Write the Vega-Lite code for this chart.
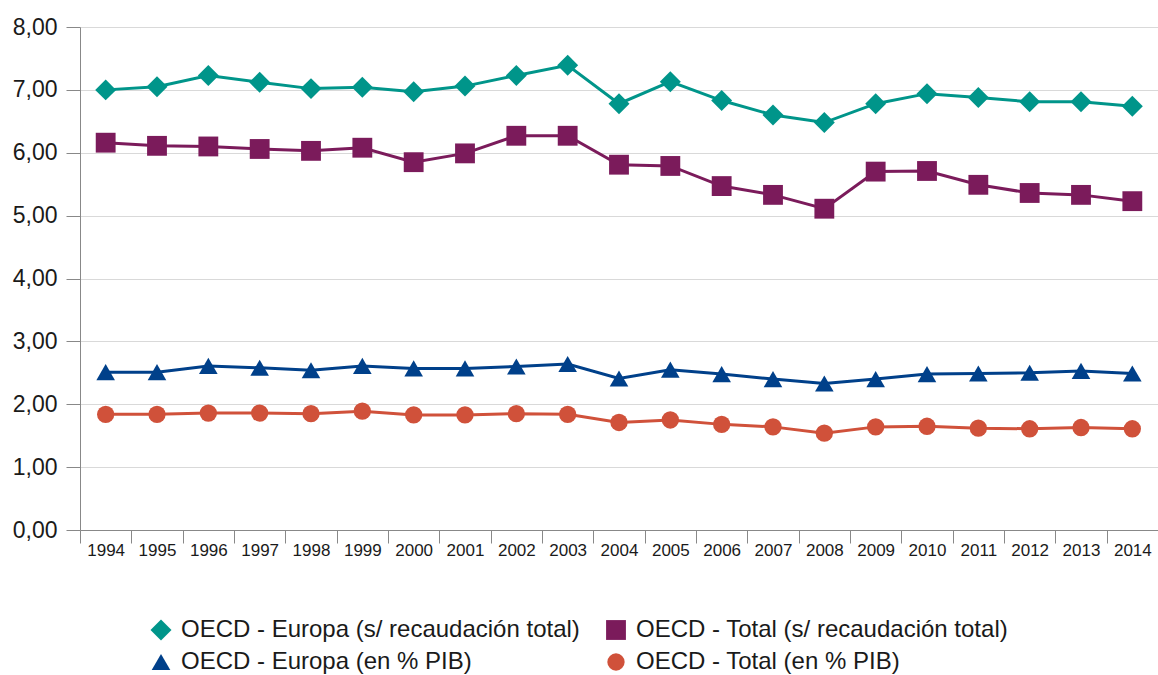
{
  "$schema": "https://vega.github.io/schema/vega-lite/v6.json",
  "width": 1078,
  "height": 503,
  "autosize": "none",
  "padding": {"left": 80, "top": 27, "right": 0, "bottom": 145},
  "background": "white",
  "config": {
    "view": {"stroke": null},
    "font": "Liberation Sans"
  },
  "data": {
    "values": [
      {"year": "1994", "series": "OECD - Europa (s/ recaudación total)", "value": 7.00},
      {"year": "1995", "series": "OECD - Europa (s/ recaudación total)", "value": 7.05},
      {"year": "1996", "series": "OECD - Europa (s/ recaudación total)", "value": 7.23},
      {"year": "1997", "series": "OECD - Europa (s/ recaudación total)", "value": 7.12},
      {"year": "1998", "series": "OECD - Europa (s/ recaudación total)", "value": 7.02},
      {"year": "1999", "series": "OECD - Europa (s/ recaudación total)", "value": 7.04},
      {"year": "2000", "series": "OECD - Europa (s/ recaudación total)", "value": 6.97},
      {"year": "2001", "series": "OECD - Europa (s/ recaudación total)", "value": 7.06},
      {"year": "2002", "series": "OECD - Europa (s/ recaudación total)", "value": 7.23},
      {"year": "2003", "series": "OECD - Europa (s/ recaudación total)", "value": 7.39},
      {"year": "2004", "series": "OECD - Europa (s/ recaudación total)", "value": 6.78},
      {"year": "2005", "series": "OECD - Europa (s/ recaudación total)", "value": 7.13},
      {"year": "2006", "series": "OECD - Europa (s/ recaudación total)", "value": 6.83},
      {"year": "2007", "series": "OECD - Europa (s/ recaudación total)", "value": 6.60},
      {"year": "2008", "series": "OECD - Europa (s/ recaudación total)", "value": 6.48},
      {"year": "2009", "series": "OECD - Europa (s/ recaudación total)", "value": 6.78},
      {"year": "2010", "series": "OECD - Europa (s/ recaudación total)", "value": 6.94},
      {"year": "2011", "series": "OECD - Europa (s/ recaudación total)", "value": 6.88},
      {"year": "2012", "series": "OECD - Europa (s/ recaudación total)", "value": 6.81},
      {"year": "2013", "series": "OECD - Europa (s/ recaudación total)", "value": 6.81},
      {"year": "2014", "series": "OECD - Europa (s/ recaudación total)", "value": 6.74},
      {"year": "1994", "series": "OECD - Total (s/ recaudación total)", "value": 6.16},
      {"year": "1995", "series": "OECD - Total (s/ recaudación total)", "value": 6.11},
      {"year": "1996", "series": "OECD - Total (s/ recaudación total)", "value": 6.10},
      {"year": "1997", "series": "OECD - Total (s/ recaudación total)", "value": 6.06},
      {"year": "1998", "series": "OECD - Total (s/ recaudación total)", "value": 6.03},
      {"year": "1999", "series": "OECD - Total (s/ recaudación total)", "value": 6.08},
      {"year": "2000", "series": "OECD - Total (s/ recaudación total)", "value": 5.85},
      {"year": "2001", "series": "OECD - Total (s/ recaudación total)", "value": 5.99},
      {"year": "2002", "series": "OECD - Total (s/ recaudación total)", "value": 6.27},
      {"year": "2003", "series": "OECD - Total (s/ recaudación total)", "value": 6.27},
      {"year": "2004", "series": "OECD - Total (s/ recaudación total)", "value": 5.81},
      {"year": "2005", "series": "OECD - Total (s/ recaudación total)", "value": 5.79},
      {"year": "2006", "series": "OECD - Total (s/ recaudación total)", "value": 5.47},
      {"year": "2007", "series": "OECD - Total (s/ recaudación total)", "value": 5.33},
      {"year": "2008", "series": "OECD - Total (s/ recaudación total)", "value": 5.11},
      {"year": "2009", "series": "OECD - Total (s/ recaudación total)", "value": 5.70},
      {"year": "2010", "series": "OECD - Total (s/ recaudación total)", "value": 5.71},
      {"year": "2011", "series": "OECD - Total (s/ recaudación total)", "value": 5.49},
      {"year": "2012", "series": "OECD - Total (s/ recaudación total)", "value": 5.36},
      {"year": "2013", "series": "OECD - Total (s/ recaudación total)", "value": 5.33},
      {"year": "2014", "series": "OECD - Total (s/ recaudación total)", "value": 5.23},
      {"year": "1994", "series": "OECD - Europa (en % PIB)", "value": 2.51},
      {"year": "1995", "series": "OECD - Europa (en % PIB)", "value": 2.51},
      {"year": "1996", "series": "OECD - Europa (en % PIB)", "value": 2.61},
      {"year": "1997", "series": "OECD - Europa (en % PIB)", "value": 2.58},
      {"year": "1998", "series": "OECD - Europa (en % PIB)", "value": 2.54},
      {"year": "1999", "series": "OECD - Europa (en % PIB)", "value": 2.61},
      {"year": "2000", "series": "OECD - Europa (en % PIB)", "value": 2.57},
      {"year": "2001", "series": "OECD - Europa (en % PIB)", "value": 2.57},
      {"year": "2002", "series": "OECD - Europa (en % PIB)", "value": 2.60},
      {"year": "2003", "series": "OECD - Europa (en % PIB)", "value": 2.64},
      {"year": "2004", "series": "OECD - Europa (en % PIB)", "value": 2.41},
      {"year": "2005", "series": "OECD - Europa (en % PIB)", "value": 2.55},
      {"year": "2006", "series": "OECD - Europa (en % PIB)", "value": 2.48},
      {"year": "2007", "series": "OECD - Europa (en % PIB)", "value": 2.40},
      {"year": "2008", "series": "OECD - Europa (en % PIB)", "value": 2.33},
      {"year": "2009", "series": "OECD - Europa (en % PIB)", "value": 2.40},
      {"year": "2010", "series": "OECD - Europa (en % PIB)", "value": 2.48},
      {"year": "2011", "series": "OECD - Europa (en % PIB)", "value": 2.49},
      {"year": "2012", "series": "OECD - Europa (en % PIB)", "value": 2.50},
      {"year": "2013", "series": "OECD - Europa (en % PIB)", "value": 2.53},
      {"year": "2014", "series": "OECD - Europa (en % PIB)", "value": 2.49},
      {"year": "1994", "series": "OECD - Total (en % PIB)", "value": 1.84},
      {"year": "1995", "series": "OECD - Total (en % PIB)", "value": 1.84},
      {"year": "1996", "series": "OECD - Total (en % PIB)", "value": 1.86},
      {"year": "1997", "series": "OECD - Total (en % PIB)", "value": 1.86},
      {"year": "1998", "series": "OECD - Total (en % PIB)", "value": 1.85},
      {"year": "1999", "series": "OECD - Total (en % PIB)", "value": 1.89},
      {"year": "2000", "series": "OECD - Total (en % PIB)", "value": 1.83},
      {"year": "2001", "series": "OECD - Total (en % PIB)", "value": 1.83},
      {"year": "2002", "series": "OECD - Total (en % PIB)", "value": 1.85},
      {"year": "2003", "series": "OECD - Total (en % PIB)", "value": 1.84},
      {"year": "2004", "series": "OECD - Total (en % PIB)", "value": 1.71},
      {"year": "2005", "series": "OECD - Total (en % PIB)", "value": 1.75},
      {"year": "2006", "series": "OECD - Total (en % PIB)", "value": 1.68},
      {"year": "2007", "series": "OECD - Total (en % PIB)", "value": 1.64},
      {"year": "2008", "series": "OECD - Total (en % PIB)", "value": 1.54},
      {"year": "2009", "series": "OECD - Total (en % PIB)", "value": 1.64},
      {"year": "2010", "series": "OECD - Total (en % PIB)", "value": 1.65},
      {"year": "2011", "series": "OECD - Total (en % PIB)", "value": 1.62},
      {"year": "2012", "series": "OECD - Total (en % PIB)", "value": 1.61},
      {"year": "2013", "series": "OECD - Total (en % PIB)", "value": 1.63},
      {"year": "2014", "series": "OECD - Total (en % PIB)", "value": 1.61}
    ]
  },
  "encoding": {
    "x": {
      "field": "year",
      "type": "ordinal",
      "scale": {"paddingInner": 0, "paddingOuter": 0},
      "axis": {
        "title": null,
        "labelAngle": 0,
        "labelFontSize": 17,
        "labelColor": "#1a1a1a",
        "tickBand": "extent",
        "tickSize": 13,
        "tickColor": "#888888",
        "domainColor": "#888888",
        "labelPadding": -1,
        "grid": false
      }
    },
    "y": {
      "field": "value",
      "type": "quantitative",
      "scale": {"domain": [0, 8], "nice": false, "zero": true},
      "axis": {
        "title": null,
        "values": [0, 1, 2, 3, 4, 5, 6, 7, 8],
        "labelExpr": "replace(format(datum.value, '.2f'), '.', ',')",
        "labelFontSize": 23,
        "labelColor": "#1a1a1a",
        "tickSize": 14,
        "tickColor": "#888888",
        "domainColor": "#888888",
        "labelPadding": 9,
        "grid": true,
        "gridColor": "#d9d9d9",
        "gridWidth": 1
      }
    },
    "color": {
      "field": "series",
      "type": "nominal",
      "scale": {
        "domain": ["OECD - Europa (s/ recaudación total)", "OECD - Total (s/ recaudación total)", "OECD - Europa (en % PIB)", "OECD - Total (en % PIB)"],
        "range": ["#00958a", "#7b1b5b", "#00408a", "#d0513a"]
      },
      "legend": {
        "title": null,
        "orient": "none",
        "legendX": 69,
        "legendY": 591,
        "direction": "horizontal",
        "columns": 2,
        "columnPadding": 24,
        "rowPadding": 8,
        "labelFontSize": 24,
        "labelColor": "#1a1a1a",
        "labelOffset": 8,
        "symbolSize": 330,
        "symbolStrokeWidth": 0,
        "labelLimit": 0
      }
    }
  },
  "layer": [
    {
      "mark": {"type": "line", "strokeWidth": 3},
      "encoding": {}
    },
    {
      "mark": {"type": "point", "filled": true, "opacity": 1},
      "encoding": {
        "shape": {
          "field": "series",
          "type": "nominal",
          "scale": {
            "domain": ["OECD - Europa (s/ recaudación total)", "OECD - Total (s/ recaudación total)", "OECD - Europa (en % PIB)", "OECD - Total (en % PIB)"],
            "range": ["diamond", "square", "triangle-up", "circle"]
          }
        },
        "size": {
          "field": "series",
          "type": "nominal",
          "scale": {
            "domain": ["OECD - Europa (s/ recaudación total)", "OECD - Total (s/ recaudación total)", "OECD - Europa (en % PIB)", "OECD - Total (en % PIB)"],
            "range": [440, 300, 260, 260]
          },
          "legend": null
        }
      }
    }
  ]
}
